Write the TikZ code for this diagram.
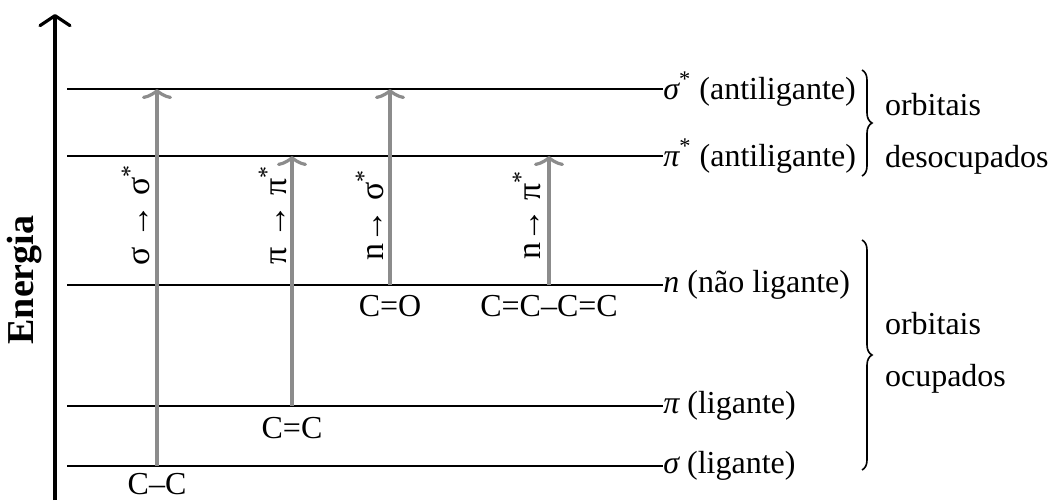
\documentclass[tikz,border=0pt]{standalone}
\usepackage{fontspec}
\setmainfont{Liberation Serif}
\usetikzlibrary{arrows.meta,decorations.pathreplacing}
\definecolor{transgray}{RGB}{140,140,140}
\tikzset{
  level/.style={line width=1pt},
  levellabel/.style={anchor=west, inner sep=0pt},
  trans/.style={draw=transgray, line width=2pt, -{Classical TikZ Rightarrow[length=5pt,width=15pt]}},
  translabel/.style={rotate=90, inner sep=0pt, font=\fontsize{17}{19}\selectfont},
  bondlabel/.style={inner sep=0pt},
  orbbrace/.style={decorate, decoration={brace, amplitude=5pt}, line width=0.8pt},
  groupname/.style={anchor=west, align=left, font=\fontsize{16}{26}\selectfont}
}
\begin{document}
\begin{tikzpicture}[x=0.5pt, y=-0.5pt, font=\fontsize{16}{19}\selectfont]
    \useasboundingbox (0,0) rectangle (1058,500);
    % Energy axis
    \coordinate (e0) at (55,500);
    \coordinate (e1) at (55,14);
    \draw[line width=1.6pt, -{Straight Barb[length=5pt,width=15pt,line cap=round,line join=round]}] (e0) -- (e1);
    \node[rotate=90, font=\bfseries\fontsize{19}{23}\selectfont] (energia) at (25,280) {Energia};

    % Levels
    \node[levellabel] (ssl) at (663,89) {{\itshape σ}\textsuperscript{*} (antiligante)};
    \node[levellabel] (ppl) at (663,156) {{\itshape π}\textsuperscript{*} (antiligante)};
    \node[levellabel] (nl) at (663,285) {{\itshape n} (não ligante)};
    \node[levellabel] (pl) at (663,406) {{\itshape π} (ligante)};
    \node[levellabel] (sl) at (663,466) {{\itshape σ} (ligante)};
    \coordinate (ss0) at (67,89);
    \coordinate (pp0) at (67,156);
    \coordinate (n0) at (67,285);
    \coordinate (p0) at (67,406);
    \coordinate (s0) at (67,466);
    \draw[level] (ss0) -- (ssl.west);
    \draw[level] (pp0) -- (ppl.west);
    \draw[level] (n0) -- (nl.west);
    \draw[level] (p0) -- (pl.west);
    \draw[level] (s0) -- (sl.west);

    % Transitions
    \coordinate (t1a) at (157,466);
    \coordinate (t1b) at (157,89);
    \coordinate (t2a) at (292,406);
    \coordinate (t2b) at (292,156);
    \coordinate (t3a) at (390,285);
    \coordinate (t3b) at (390,89);
    \coordinate (t4a) at (549,285);
    \coordinate (t4b) at (549,156);
    \draw[trans] (t1a) -- (t1b);
    \draw[trans] (t2a) -- (t2b);
    \draw[trans] (t3a) -- (t3b);
    \draw[trans] (t4a) -- (t4b);
    \node[translabel] (t1l) at (136,215) {σ → σ\textsuperscript{*}};
    \node[translabel] (t2l) at (273,215) {π → π\textsuperscript{*}};
    \node[translabel] (t3l) at (370,215) {n→ σ\textsuperscript{*}};
    \node[translabel] (t4l) at (527,215) {n→ π\textsuperscript{*}};

    % Bonds
    \node[bondlabel] (cc) at (157,484) {C–C};
    \node[bondlabel] (cdc) at (292,428) {C=C};
    \node[bondlabel] (co) at (390,306) {C=O};
    \node[bondlabel] (cdcc) at (549,306) {C=C–C=C};

    % Braces
    \coordinate (b1a) at (862,70);
    \coordinate (b1b) at (862,176);
    \coordinate (b2a) at (862,240);
    \coordinate (b2b) at (862,470);
    \draw[orbbrace] (b1a) -- (b1b);
    \draw[orbbrace] (b2a) -- (b2b);
    \node[groupname] (unocc) at (878,134) {orbitais\\desocupados};
    \node[groupname] (occ) at (878,353) {orbitais\\ocupados};
\end{tikzpicture}
\end{document}
